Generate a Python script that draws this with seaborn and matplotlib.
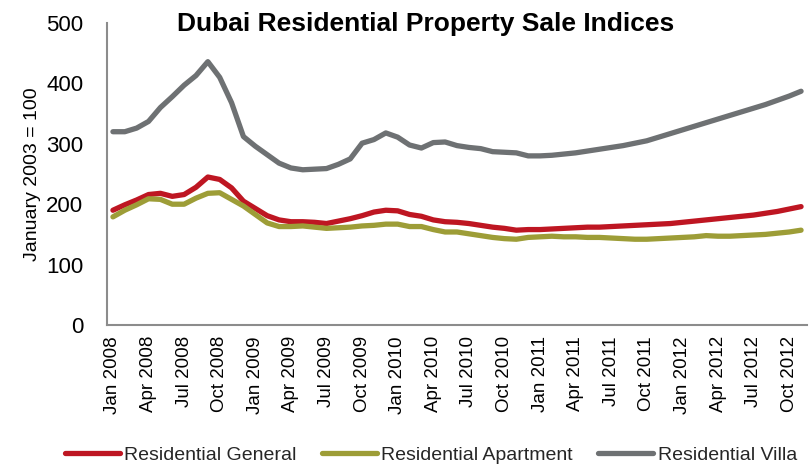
import numpy as np
import pandas as pd
import matplotlib
matplotlib.use("Agg")
import matplotlib.pyplot as plt
import seaborn as sns
from matplotlib.lines import Line2D

months = ["Jan", "Feb", "Mar", "Apr", "May", "Jun", "Jul", "Aug", "Sep", "Oct", "Nov", "Dec"]
dates = [f"{m} {y}" for y in range(2008, 2013) for m in months][:59]

general = [190, 199, 207, 216, 218, 213, 216, 228, 245, 241, 227, 205, 193, 181, 174, 171, 171, 170,
           168, 172, 176, 181, 187, 190, 189, 183, 180, 174, 171, 170, 168, 165, 162, 160, 157, 158,
           158, 159, 160, 161, 162, 162, 163, 164, 165, 166, 167, 168, 170, 172, 174, 176, 178, 180,
           182, 185, 188, 192, 196]
apartment = [179, 190, 199, 209, 208, 200, 200, 210, 218, 219, 208, 197, 183, 169, 163, 163, 164, 162,
             160, 161, 162, 164, 165, 167, 167, 163, 163, 158, 154, 154, 151, 148, 145, 143, 142, 145,
             146, 147, 146, 146, 145, 145, 144, 143, 142, 142, 143, 144, 145, 146, 148, 147, 147, 148,
             149, 150, 152, 154, 157]
villa = [320, 320, 326, 337, 360, 378, 397, 413, 436, 410, 368, 312, 296, 282, 268, 260, 257, 258,
         259, 266, 275, 301, 307, 318, 311, 298, 293, 302, 303, 297, 294, 292, 287, 286, 285, 280,
         280, 281, 283, 285, 288, 291, 294, 297, 301, 305, 311, 317, 323, 329, 335, 341, 347, 353,
         359, 365, 372, 379, 387]

series_names = ["Residential General", "Residential Apartment", "Residential Villa"]
colors = ["#BE1622", "#9D9D37", "#6E7173"]

df = pd.concat([
    pd.DataFrame({"idx": range(len(dates)), "value": vals, "series": name})
    for name, vals in zip(series_names, [general, apartment, villa])
])

sns.set_theme(style="white")
FONT = ["Liberation Sans Narrow", "Liberation Sans", "DejaVu Sans"]
plt.rcParams["font.family"] = FONT

fig = plt.figure(figsize=(8.1, 4.67), dpi=100)
ax = fig.add_axes([107/810, 1-325/467, 700/810, (325-23)/467])

sns.lineplot(data=df, x="idx", y="value", hue="series", hue_order=series_names,
             palette=colors, linewidth=3.8, ax=ax, legend=False)
for ln in ax.lines:
    ln.set_solid_capstyle("round")
    ln.set_solid_joinstyle("round")

ax.set_xlim(-0.5, 58.5)
ax.set_ylim(0, 500)
yt = [0, 100, 200, 300, 400, 500]
ax.set_yticks(yt)
ax.set_yticklabels([str(v) for v in yt], fontsize=16, color="#000000")
ticks = list(range(0, 59, 3))
ax.set_xticks(ticks)
ax.set_xticklabels([dates[i] for i in ticks], rotation=90, fontsize=13.5, color="#000000")
ax.tick_params(axis="x", length=0, pad=8)
ax.tick_params(axis="y", length=0, pad=17)
ax.set_xlabel("")
ax.set_ylabel("January 2003 = 100", fontsize=14, color="#000000", labelpad=4)

for s in ["top", "right"]:
    ax.spines[s].set_visible(False)
for s in ["left", "bottom"]:
    ax.spines[s].set_color("#8C8C8C")
    ax.spines[s].set_linewidth(1.5)
ax.grid(False)

fig.text(426/810, 1-24/467, "Dubai Residential Property Sale Indices", ha="center", va="center",
         fontsize=19, fontweight="bold", color="#000000")

handles = [Line2D([0], [0], color=c, linewidth=3.8, solid_capstyle="round") for c in colors]
fig.legend(handles, series_names, loc="center", bbox_to_anchor=(431/810, 1-455/467), ncol=3,
           frameon=False, fontsize=14, handlelength=2.8, handletextpad=0.25, columnspacing=1.3)

fig.savefig("out.png", dpi=100)
